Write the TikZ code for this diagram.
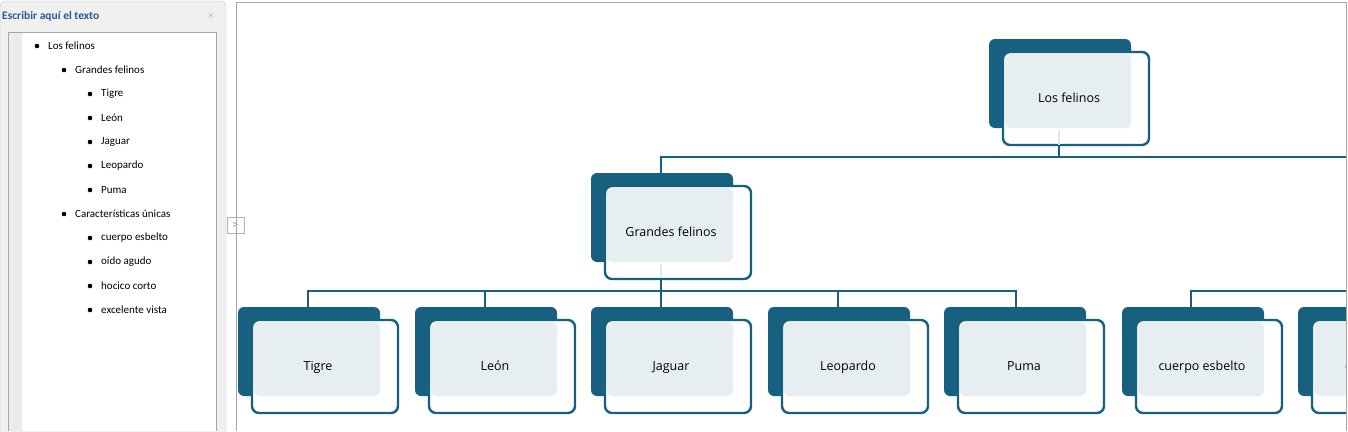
\documentclass[tikz,border=0pt]{standalone}
\usepackage{fontspec}
\setmainfont{Open Sans}
\newfontfamily\panelfont{Carlito}
\definecolor{dk}{HTML}{17607F}
\definecolor{lt}{HTML}{E7EEF2}
\definecolor{pb}{HTML}{2B5797}
\tikzset{conn/.style={draw=dk,line width=2.4pt},
 bul/.style={font=\panelfont\fontsize{11}{13}\selectfont,anchor=west,inner sep=0},
 lbl/.style={font=\fontsize{12.5}{14}\selectfont,inner sep=0,anchor=base}}
\newcommand{\catbox}[4]{% name, x, y (top of dark), text
 \fill[dk,rounded corners=6pt] (#2,#3) rectangle ++(142,89);
 \draw[dk,line width=2.4pt,fill=white,rounded corners=7pt] (#2+14,#3+13) rectangle ++(146,93);
 \fill[lt,rounded corners=6pt] (#2+16,#3+15) rectangle (#2+142,#3+89);
 \node[lbl] (#1) at (#2+80,#3+63) {#4};
}
\begin{document}
\begin{tikzpicture}[x=1pt,y=-1pt]
\useasboundingbox (0,0) rectangle (1348,431);
\fill[white] (0,0) rectangle (1348,431);
% left panel
\fill[gray!12,rounded corners=6pt] (0,1) rectangle (226,440);
\draw[gray!50,rounded corners=6pt] (0,1) rectangle (226,440);
\node[font=\panelfont\bfseries\fontsize{11.5}{13}\selectfont,text=pb,anchor=west,inner sep=0] (hdr) at (2,16) {Escribir aquí el texto};
\node[text=gray!50,inner sep=0,font=\fontsize{11}{12}\selectfont] (cls) at (211,16) {×};
\fill[white] (8,32) rectangle (216,431);
\fill[gray!15] (8,32) rectangle (22,431);
\draw[gray!70] (8,431) -- (8,32) -- (216,32) -- (216,431);
\foreach \t/\x/\y [count=\i] in {Los felinos/48/46,Grandes felinos/75/70,Tigre/101/94,León/101/118,Jaguar/101/142,Leopardo/101/166,Puma/101/190,Características únicas/75/214,cuerpo esbelto/101/238,oído agudo/101/262,hocico corto/101/286,excelente vista/101/310}{
 \fill (\x-11,\y) circle (2.3);
 \node[bul] (b\i) at (\x,\y) {\t};
}
\draw[gray!60,fill=white] (227,217) rectangle (244,233);
\node[text=gray,font=\fontsize{10}{10}\selectfont,inner sep=0] (arr) at (235.5,225) {\textgreater};
% diagram frame
\draw[gray!70] (236,431) -- (236,2) -- (1346,2) -- (1346,431);
% connectors
\coordinate (r1) at (1348,157);
\coordinate (r2) at (1348,291);
\draw[conn] (1059,145) -- (1059,157);
\draw[conn] (661,173) -- (661,157) -- (r1);
\draw[conn] (661,278) -- (661,291);
\draw[conn] (308,307) -- (308,291) -- (1016,291) -- (1016,307);
\foreach \x in {485,661,838}{\draw[conn] (\x,291) -- (\x,307);}
\draw[conn] (1191,307) -- (1191,291) -- (r2);
% boxes
\catbox{root}{989}{39}{Los felinos}
\catbox{gf}{591}{173}{Grandes felinos}
\catbox{tig}{238}{307}{Tigre}
\catbox{leo}{415}{307}{León}
\catbox{jag}{591}{307}{Jaguar}
\catbox{leop}{768}{307}{Leopardo}
\catbox{pum}{944}{307}{Puma}
\catbox{ce}{1122}{307}{cuerpo esbelto}
\catbox{oa}{1298}{307}{oído agudo}
\fill[white] (1347,0) rectangle (1400,431);
\draw[gray!70] (1346,2) -- (1346,431);
\draw[gray!20,line width=2pt] (1059,130) -- (1059,145);
\draw[gray!20,line width=2pt] (661,264) -- (661,278);
\end{tikzpicture}
\end{document}
